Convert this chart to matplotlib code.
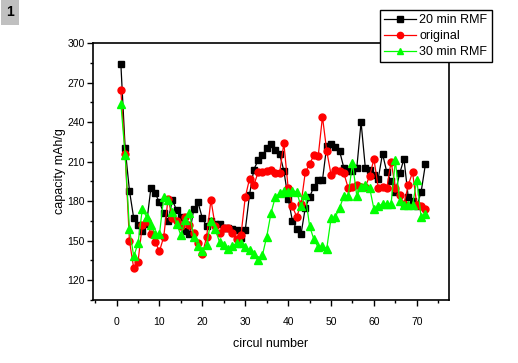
# plot.py
# capacity vs. circul number for three treatments (Origin-style chart)

import matplotlib
matplotlib.use("Agg")
import matplotlib.pyplot as plt
from matplotlib.ticker import MultipleLocator

# data
cycles = list(range(1, 73))

rmf20 = [284, 220, 188, 167, 162, 157, 163, 190, 186, 179,
         171, 165, 181, 173, 168, 157, 155, 174, 179, 167,
         161, 165, 163, 163, 160, 160, 159, 158, 152, 158,
         185, 204, 211, 215, 220, 223, 219, 216, 203, 182,
         165, 159, 155, 175, 183, 191, 196, 196, 222, 223,
         221, 218, 205, 203, 203, 205, 240, 205, 204, 200,
         197, 216, 202, 195, 187, 201, 212, 183, 180, 176,
         187, 208]

original = [264, 216, 150, 129, 134, 162, 165, 155, 149, 142,
            153, 182, 167, 165, 161, 168, 162, 156, 148, 140,
            153, 181, 161, 156, 160, 160, 156, 151, 154, 183,
            197, 192, 202, 202, 203, 204, 201, 201, 224, 190,
            176, 168, 178, 202, 208, 215, 214, 244, 218, 200,
            204, 203, 201, 190, 191, 192, 191, 191, 199, 212,
            190, 191, 190, 210, 190, 185, 178, 192, 202, 177,
            176, 174]

rmf30 = [254, 215, 159, 138, 148, 174, 168, 162, 155, 155,
         183, 181, 172, 163, 154, 166, 171, 153, 146, 142,
         147, 165, 159, 149, 147, 144, 146, 148, 148, 145,
         143, 140, 135, 139, 153, 171, 183, 186, 188, 187,
         188, 187, 176, 185, 161, 151, 145, 146, 144, 167,
         168, 175, 184, 184, 209, 184, 191, 192, 190, 174,
         176, 178, 178, 178, 211, 180, 177, 177, 177, 196,
         168, 170]

plt.rcParams['font.family'] = ['Liberation Sans', 'DejaVu Sans']

fig = plt.figure(figsize=(5.18, 3.63), dpi=100)
ax = fig.add_axes([0.1795, 0.1736, 0.6873, 0.7079])

ax.plot(cycles, rmf20, color='black', marker='s', markersize=5, lw=0.9,
        label='20 min RMF')
ax.plot(cycles, original, color='red', marker='o', markersize=5, lw=0.9,
        label='original')
ax.plot(cycles, rmf30, color='#00ff00', marker='^', markersize=5.5, lw=0.9,
        label='30 min RMF')

ax.set_xlim(-5.5, 77.5)
ax.set_ylim(105, 300)
ax.xaxis.set_major_locator(MultipleLocator(10))
ax.xaxis.set_minor_locator(MultipleLocator(5))
ax.yaxis.set_major_locator(MultipleLocator(30))
ax.yaxis.set_minor_locator(MultipleLocator(15))
ax.tick_params(which='both', direction='out', top=False, right=False,
               labelsize=7.5, width=1)
ax.tick_params(which='major', length=4)
ax.tick_params(which='minor', length=2)
ax.tick_params(axis='x', pad=8)
ax.tick_params(axis='y', pad=2)
for s in ax.spines.values():
    s.set_linewidth(1.2)

ax.set_xlabel('circul number', fontsize=9, labelpad=8)
ax.set_ylabel('capacity mAh/g', fontsize=9, labelpad=1)

leg = ax.legend(loc='upper left', bbox_to_anchor=(380/518, 1 - 10/363),
                bbox_transform=fig.transFigure, borderaxespad=0,
                fontsize=9, frameon=True,
                fancybox=False, edgecolor='black', framealpha=1,
                handlelength=2.5, borderpad=0.35, labelspacing=0.3,
                handletextpad=0.3, markerscale=0.9)
leg.get_frame().set_linewidth(1)
leg.set_zorder(10)

# panel number in the top-left corner
fig.text(10/518, 1 - 12/363, '1', fontsize=10, fontweight='bold',
         va='center', ha='center',
         bbox=dict(facecolor='#c0c0c0', edgecolor='none', pad=4))

fig.savefig('out.png', dpi=100)
